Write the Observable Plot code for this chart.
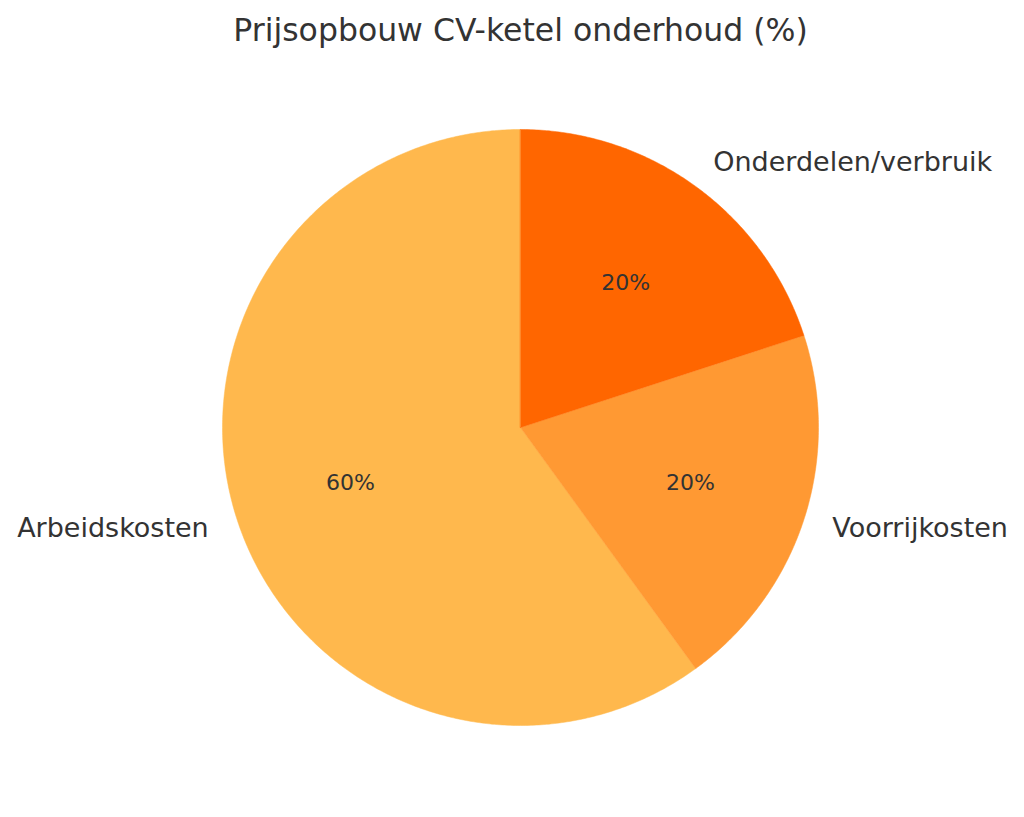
<!DOCTYPE html>
<html>
<head>
<meta charset="utf-8">
<script src="https://cdn.jsdelivr.net/npm/d3@7"></script>
<script src="https://cdn.jsdelivr.net/npm/@observablehq/plot@0.6"></script>
<style>
  html, body { margin: 0; padding: 0; background: #ffffff; }
</style>
</head>
<body>
<div id="chart"></div>
<script>
// Data
const categories = ["Arbeidskosten", "Voorrijkosten", "Onderdelen/verbruik"];
const values = [60, 20, 20];
const colors = ["#FFB84D", "#FF9933", "#FF6600"];
const titleText = "Prijsopbouw CV-ketel onderhoud (%)";

// Layout
const W = 1024, H = 817;
const cx = 520, cy = 427, R = 298;
const startDeg = 90;       // matplotlib-style startangle, counterclockwise
const labelDist = 1.1, pctDist = 0.6;

const total = d3.sum(values);
const slices = [];
let acc = startDeg;
categories.forEach((c, i) => {
  const sweep = values[i] / total * 360;
  slices.push({ name: c, value: values[i], color: colors[i], a0: acc, a1: acc + sweep });
  acc += sweep;
});

// Wedge outlines in unit-radius data space (geometry of each slice)
const wedgePts = [];
slices.forEach(s => {
  wedgePts.push({ name: s.name, color: s.color, x: 0, y: 0 });
  const n = Math.max(2, Math.ceil(s.a1 - s.a0) * 2);
  for (let k = 0; k <= n; k++) {
    const a = (s.a0 + (s.a1 - s.a0) * k / n) * Math.PI / 180;
    wedgePts.push({ name: s.name, color: s.color, x: Math.cos(a), y: Math.sin(a) });
  }
});

const labels = slices.map(s => {
  const m = (s.a0 + s.a1) / 2 * Math.PI / 180;
  return {
    name: s.name,
    pct: Math.round(s.value / total * 100) + "%",
    lx: labelDist * Math.cos(m), ly: labelDist * Math.sin(m),
    px: pctDist * Math.cos(m), py: pctDist * Math.sin(m),
    right: Math.cos(m) >= 0
  };
});

const font = "DejaVu Sans, sans-serif";
const ink = "#333333";

const chart = Plot.plot({
  width: W, height: H,
  margin: 0,
  style: { fontFamily: font, background: "#ffffff", color: ink, overflow: "visible" },
  x: { type: "linear", domain: [-cx / R, (W - cx) / R], range: [0, W], axis: null },
  y: { type: "linear", domain: [-(H - cy) / R, cy / R], range: [H, 0], axis: null },
  marks: [
    Plot.line(wedgePts, { x: "x", y: "y", z: "name", fill: "color", stroke: "color", strokeWidth: 0.5, curve: "linear-closed" }),
    Plot.text(labels, { x: "px", y: "py", text: "pct", fontSize: 22, fill: ink, lineAnchor: "middle", textAnchor: "middle" }),
    Plot.text(labels.filter(d => d.right), { x: "lx", y: "ly", text: "name", fontSize: 27, fill: ink, lineAnchor: "middle", textAnchor: "start" }),
    Plot.text(labels.filter(d => !d.right), { x: "lx", y: "ly", text: "name", fontSize: 27, fill: ink, lineAnchor: "middle", textAnchor: "end" }),
    Plot.text([titleText], { text: d => d, frameAnchor: "top", lineAnchor: "bottom", dy: 40, dx: 8, fontSize: 31.5, fill: ink })
  ]
});
document.getElementById("chart").appendChild(chart);
</script>
</body>
</html>
